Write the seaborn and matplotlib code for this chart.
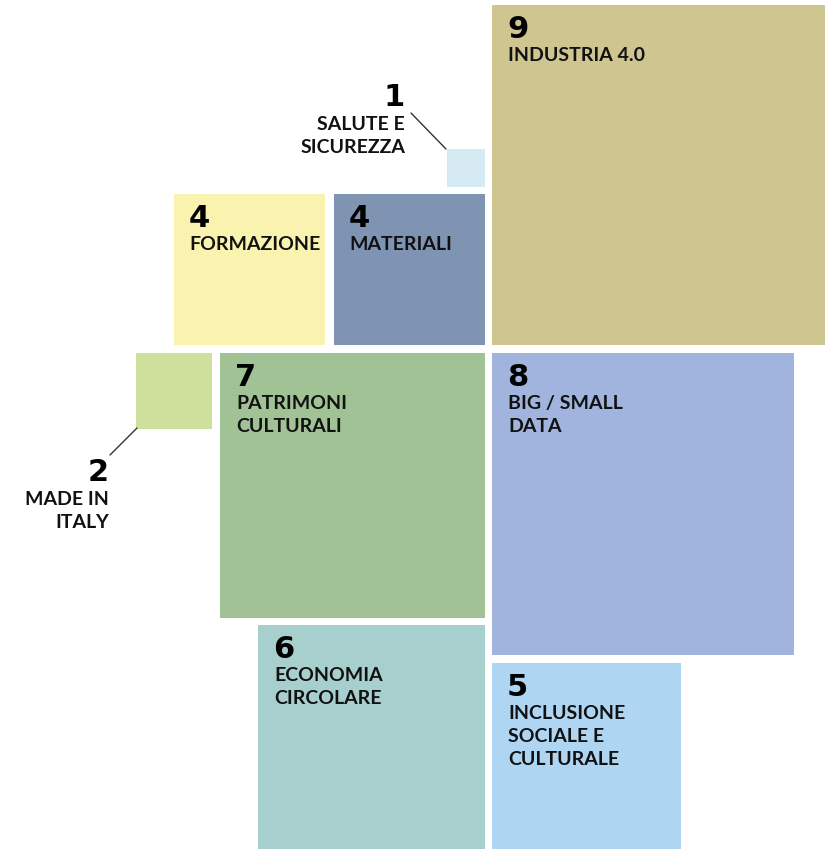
import matplotlib.pyplot as plt
import seaborn as sns

# Number of projects per area: the side of each square is proportional to it
areas = ["INDUSTRIA 4.0", "SALUTE E\nSICUREZZA", "FORMAZIONE", "MATERIALI",
         "MADE IN\nITALY", "PATRIMONI\nCULTURALI", "BIG / SMALL\nDATA",
         "ECONOMIA\nCIRCOLARE", "INCLUSIONE\nSOCIALE E\nCULTURALE"]
counts = [9, 1, 4, 4, 2, 7, 8, 6, 5]
colors = ["#CEC591", "#D6EAF3", "#FAF3B0", "#7F93B3", "#CFDF9C",
          "#A0C294", "#A1B4DE", "#A6CFCD", "#AED6F2"]

# layout: anchor point (px, y down) and which corner of the square sits on it
anchors = [(492, 345, "bl"), (485, 187, "br"), (325, 345, "br"), (485, 345, "br"),
           (212, 353, "tr"), (485, 353, "tr"), (492, 353, "tl"), (485, 625, "tr"),
           (492, 663, "tl")]
UNIT = 37.8

# small squares get their label outside, with a leader line
outside = {1: dict(num=(405, 83), line=((411, 113), (446, 149))),
           4: dict(num=(109, 458), line=((110, 455), (137, 428)))}

sns.set_theme(style="white")
plt.rcParams['font.family'] = ['Lato', 'DejaVu Sans']

fig = plt.figure(figsize=(8.25, 8.49), dpi=100)
ax = fig.add_axes([0, 0, 1, 1])
ax.set_xlim(0, 825)
ax.set_ylim(849, 0)
ax.axis('off')

num_style = dict(fontsize=22, fontweight='heavy', color='black', family=['DejaVu Sans'])
lab_style = dict(fontsize=14, fontweight='bold', color='#111111', linespacing=1.42)

for i, (name, n, col) in enumerate(zip(areas, counts, colors)):
    side = n * UNIT
    x0, y0, corner = anchors[i]
    left = x0 if corner[1] == "l" else x0 - side
    top = y0 if corner[0] == "t" else y0 - side
    ax.bar(left, side, width=side, bottom=top, align='edge', color=col, linewidth=0)

    if i in outside:
        nx, ny = outside[i]['num']
        ax.text(nx, ny, str(n), ha='right', va='top', **num_style)
        ax.text(nx, ny + 33, name, ha='right', va='top', multialignment='right', **lab_style)
        (ax1, ay1), (ax2, ay2) = outside[i]['line']
        ax.plot([ax1, ax2], [ay1, ay2], color='#333333', lw=1)
    else:
        ax.text(left + 15, top + 10, str(n), ha='left', va='top', **num_style)
        ax.text(left + 16, top + 42, name, ha='left', va='top', **lab_style)

sns.despine(left=True, bottom=True)
plt.savefig('out.png', dpi=100)
